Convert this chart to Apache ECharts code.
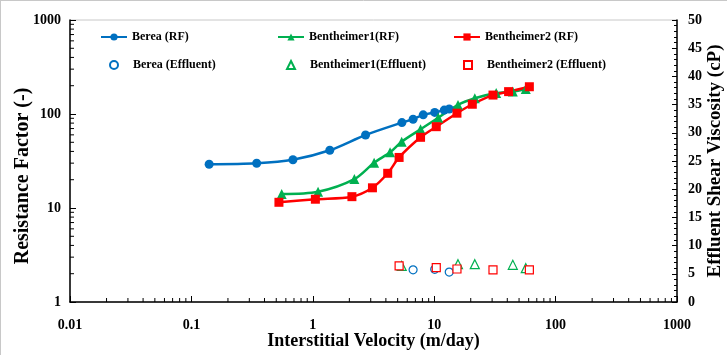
<!DOCTYPE html>
<html>
<head>
<meta charset="utf-8">
<script src="https://cdn.jsdelivr.net/npm/echarts@6/dist/echarts.min.js"></script>
<style>
  html, body { margin: 0; padding: 0; background: #fff; }
  #main { width: 727px; height: 355px; }
</style>
</head>
<body>
<div id="main"></div>
<script>
// interstitial velocity (m/day) and resistance factor (-)
var bereaVel = [0.14, 0.345, 0.686, 1.38, 2.72, 5.42, 6.7, 8.12, 10.1, 12.1, 13.3];
var bereaRF = [29.2, 29.9, 32.6, 41.1, 59.8, 81, 88, 98, 104, 110, 113];

var benth1Vel = [0.554, 1.105, 2.2, 3.2, 4.33, 5.4, 7.72, 10.8, 15.7, 21.6, 32.4, 44.4, 56.8];
var benth1RF = [14.1, 14.9, 20.3, 30.3, 39.1, 50.7, 68.7, 91.4, 125, 147, 167, 173, 184];

var benth2Vel = [0.526, 1.05, 2.1, 3.1, 4.14, 5.14, 7.72, 10.4, 15.4, 20.6, 30.5, 41.0, 60.8];
var benth2RF = [11.5, 12.4, 13.2, 16.4, 23.4, 34.5, 56.5, 73.3, 102, 127, 159, 173, 195];

// effluent shear viscosity (cP)
var bereaEffVel = [6.7, 10.1, 13.3];
var bereaEffVisc = [5.7, 5.8, 5.3];
var benth1EffVel = [5.4, 15.7, 21.6, 44.4, 56.8];
var benth1EffVisc = [6.4, 6.7, 6.7, 6.6, 6.0];
var benth2EffVel = [5.14, 10.4, 15.4, 30.5, 60.8];
var benth2EffVisc = [6.4, 6.1, 5.85, 5.7, 5.7];

var xTickLabels = ['0.01', '0.1', '1', '10', '100', '1000'];
var yTickLabels = ['1', '10', '100', '1000'];

var FONT = 'Liberation Serif';
var BLUE = '#0070c0', GREEN = '#00b050', RED = '#ff0000';

function pairs(xs, ys) {
    return xs.map(function (x, i) { return [x, ys[i]]; });
}

// minor ticks for the log axes (2..9 inside each decade)
function minorTicks(lo, hi) {
    var out = [];
    for (var d = lo; d < hi; d *= 10) {
        for (var k = 2; k <= 9; k++) out.push(+(d * k).toPrecision(3));
    }
    return out;
}
var xMinor = minorTicks(0.01, 1000);
var yMinor = minorTicks(1, 1000);

function fmtLog(labels) {
    return function (v) {
        for (var i = 0; i < labels.length; i++) {
            if (Math.abs(parseFloat(labels[i]) - v) / v < 1e-6) return labels[i];
        }
        return '';
    };
}

var labelStyle = { fontFamily: FONT, fontWeight: 'bold', fontSize: 14, color: '#000' };
function nameStyle(size, extra) {
    return Object.assign({ fontFamily: FONT, fontWeight: 'bold', fontSize: size, color: '#000' }, extra || {});
}

function lineSeries(name, data, color, symbol, size) {
    return {
        name: name, type: 'line', data: data, smooth: 0.3,
        symbol: symbol, symbolSize: size,
        lineStyle: { color: color, width: 2.5 },
        itemStyle: { color: color },
        emphasis: { disabled: true }
    };
}

function effSeries(name, data, color, symbol, size) {
    return {
        name: name, type: 'scatter', yAxisIndex: 1, data: data,
        symbol: symbol, symbolSize: size,
        itemStyle: { color: '#fff', borderColor: color, borderWidth: 1.2, opacity: 1 },
        emphasis: { disabled: true }
    };
}

// one legend per entry so the two rows line up like the original
function legendItem(name, left, top, wide) {
    return {
        left: left, top: top, padding: 0,
        itemWidth: wide ? 26 : 8, itemHeight: wide ? 9 : 8,
        textStyle: {
            fontFamily: FONT, fontWeight: 'bold', fontSize: 12, color: '#000',
            padding: wide ? 0 : [0, 0, 0, 10]
        },
        data: [name]
    };
}

var chart = echarts.init(document.getElementById('main'));

var option = {
    animation: false,
    backgroundColor: '#fff',
    grid: {
        left: 70, right: 50, top: 20, bottom: 53, outerBoundsMode: 'none',
        show: true, borderColor: '#c8c8c8', borderWidth: 1
    },
    graphic: [
        { type: 'line', shape: { x1: 0, y1: 0.5, x2: 727, y2: 0.5 }, style: { stroke: '#c8c8c8', lineWidth: 1 }, silent: true },
        { type: 'line', shape: { x1: 0.5, y1: 0, x2: 0.5, y2: 355 }, style: { stroke: '#c8c8c8', lineWidth: 1 }, silent: true }
    ],
    legend: [
        legendItem('Berea (RF)', 100, 31, true),
        legendItem('Bentheimer1(RF)', 277, 31, true),
        legendItem('Bentheimer2 (RF)', 453, 31, true),
        legendItem('Berea (Effluent)', 109, 59, false),
        legendItem('Bentheimer1(Effluent)', 286, 59, false),
        legendItem('Bentheimer2 (Effluent)', 463, 59, false)
    ],
    xAxis: {
        type: 'log', logBase: 10, min: 0.01, max: 1000,
        name: 'Interstitial Velocity (m/day)', nameLocation: 'middle', nameGap: 30, nameMoveOverlap: false,
        nameTextStyle: nameStyle(18),
        axisLine: { lineStyle: { color: '#000', width: 1.5 } },
        axisTick: { inside: true, length: 6, lineStyle: { color: '#000' } },
        axisLabel: Object.assign({ margin: 16, formatter: fmtLog(xTickLabels) }, labelStyle),
        splitLine: { show: false }
    },
    yAxis: [
        {
            type: 'log', logBase: 10, min: 1, max: 1000,
            name: 'Resistance Factor (-)', nameLocation: 'middle', nameGap: 37, nameRotate: 90,
            nameMoveOverlap: false,
            nameTextStyle: nameStyle(20, { padding: [0, 30, 0, 0] }),
            axisLine: { lineStyle: { color: '#000', width: 1.5 } },
            axisTick: { inside: true, length: 6, lineStyle: { color: '#000' } },
            axisLabel: Object.assign({ margin: 9, formatter: fmtLog(yTickLabels) }, labelStyle),
            splitLine: { show: false }
        },
        {
            type: 'value', min: 0, max: 50, interval: 5, position: 'right',
            name: 'Effluent Shear Viscosity (cP)', nameLocation: 'middle', nameGap: 29, nameRotate: 90,
            nameMoveOverlap: false,
            nameTextStyle: nameStyle(19),
            axisLine: { show: true, lineStyle: { color: '#000', width: 1.5 } },
            axisTick: { show: true, inside: true, length: 5, lineStyle: { color: '#000' } },
            minorTick: { show: true, splitNumber: 5, length: 3, lineStyle: { color: '#000' } },
            axisLabel: Object.assign({ margin: 11 }, labelStyle),
            splitLine: { show: false }
        }
    ],
    series: [
        {
            type: 'custom', silent: true, clip: false,
            data: xMinor.map(function (v) { return [v, 1]; }),
            renderItem: function (params, api) {
                var p = api.coord([api.value(0), api.value(1)]);
                return { type: 'line', shape: { x1: p[0], y1: p[1], x2: p[0], y2: p[1] - 4 },
                         style: { stroke: '#000', lineWidth: 1 } };
            }
        },
        {
            type: 'custom', silent: true, clip: false,
            data: yMinor.map(function (v) { return [0.01, v]; }),
            renderItem: function (params, api) {
                var p = api.coord([api.value(0), api.value(1)]);
                return { type: 'line', shape: { x1: p[0], y1: p[1], x2: p[0] + 4, y2: p[1] },
                         style: { stroke: '#000', lineWidth: 1 } };
            }
        },
        lineSeries('Berea (RF)', pairs(bereaVel, bereaRF), BLUE, 'circle', 9),
        lineSeries('Bentheimer1(RF)', pairs(benth1Vel, benth1RF), GREEN, 'triangle', 10),
        lineSeries('Bentheimer2 (RF)', pairs(benth2Vel, benth2RF), RED, 'rect', 9),
        effSeries('Berea (Effluent)', pairs(bereaEffVel, bereaEffVisc), BLUE, 'circle', 8),
        effSeries('Bentheimer1(Effluent)', pairs(benth1EffVel, benth1EffVisc), GREEN, 'triangle', 9),
        effSeries('Bentheimer2 (Effluent)', pairs(benth2EffVel, benth2EffVisc), RED, 'rect', 8)
    ]
};

chart.setOption(option);
</script>
</body>
</html>
